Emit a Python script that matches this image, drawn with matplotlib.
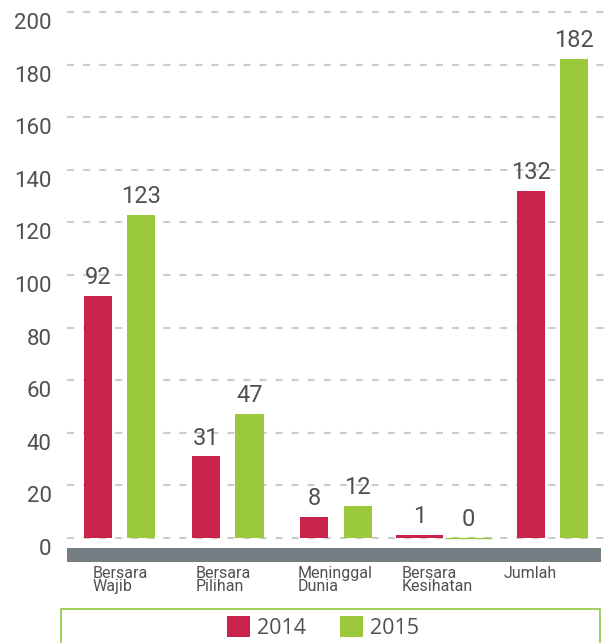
import matplotlib.pyplot as plt
from matplotlib.lines import Line2D
from matplotlib.patches import Rectangle
from matplotlib.transforms import ScaledTranslation
import numpy as np

# data
categories = ['Bersara\nWajib', 'Bersara\nPilihan', 'Meninggal\nDunia', 'Bersara\nKesihatan', 'Jumlah']
values_2014 = [92, 31, 8, 1, 132]
values_2015 = [123, 47, 12, 0, 182]
years = ['2014', '2015']
y_ticks = list(range(0, 201, 20))

RED = '#C8234A'
GREEN = '#9ACA3C'
TEXT = '#505050'

W, H = 605, 643


def fx(px):
    return px / W


def fy(py):
    # pixel row from top -> figure fraction
    return 1 - py / H


fig = plt.figure(figsize=(W / 100, H / 100), dpi=100)

# plot area: y=0 at row 538, 2.63 px per unit
ax_bottom = 538 + 2.63
ax_top = 538 - 201 * 2.63
ax = fig.add_axes([fx(67), fy(ax_bottom), fx(605) - fx(67), fy(ax_top) - fy(ax_bottom)])

x = np.arange(len(categories))
widths = np.array([0.26, 0.26, 0.26, 0.435, 0.26])
offsets = np.array([0.2, 0.2, 0.2, 0.224, 0.2])

b1 = ax.bar(x - offsets, values_2014, width=widths, color=RED, label=years[0], zorder=3)
b2 = ax.bar(x + offsets, values_2015, width=widths, color=GREEN, label=years[1], zorder=3)
# zero-height bars still show as a thin line
for bars in (b1, b2):
    for p in bars:
        if p.get_height() == 0:
            p.set_edgecolor(p.get_facecolor())
            p.set_linewidth(1.0)
    ax.bar_label(bars, padding=5, fontsize=17, color=TEXT, family='Roboto')

ax.set_xlim(-0.488, 4.487)
ax.set_ylim(-1, 201)
ax.set_yticks(y_ticks)
ax.set_xticks([])
ax.tick_params(axis='y', length=0, pad=11, labelsize=16, labelcolor=TEXT)
for lab in ax.get_yticklabels():
    lab.set_family('Roboto')
    lab.set_transform(lab.get_transform() + ScaledTranslation(0, -0.09, fig.dpi_scale_trans))
ax.grid(axis='y', color='#cccccc', linewidth=1.5, linestyle=(0, (3.4, 4.3)))
ax.set_axisbelow(True)
for s in ax.spines.values():
    s.set_visible(False)

# grey base band under the bars
fig.add_artist(Rectangle((fx(67), fy(562)), fx(601) - fx(67), fy(548) - fy(562),
                         transform=fig.transFigure, color='#737d82', lw=0))

# category labels
label_x = [93, 196, 298, 402, 504]
for lx, cat in zip(label_x, categories):
    fig.text(fx(lx), fy(566), cat, ha='left', va='top', fontsize=11.5,
             color=TEXT, family='Roboto', linespacing=0.85)

# legend frame (open at the bottom)
fig.add_artist(Line2D([fx(61), fx(61), fx(600), fx(600)], [0, fy(609), fy(609), 0],
                      transform=fig.transFigure, color='#8DC63F', lw=1.2))

leg = fig.legend(handles=[b1, b2], labels=years, loc='upper left',
                 bbox_to_anchor=(fx(227), fy(616)), ncol=2, frameon=False,
                 borderpad=0, borderaxespad=0, handlelength=1.05, handleheight=1.15,
                 handletextpad=0.33, columnspacing=1.6,
                 prop={'family': 'Open Sans', 'size': 15.5})
for t in leg.get_texts():
    t.set_color(TEXT)

fig.savefig('out.png', dpi=100)
